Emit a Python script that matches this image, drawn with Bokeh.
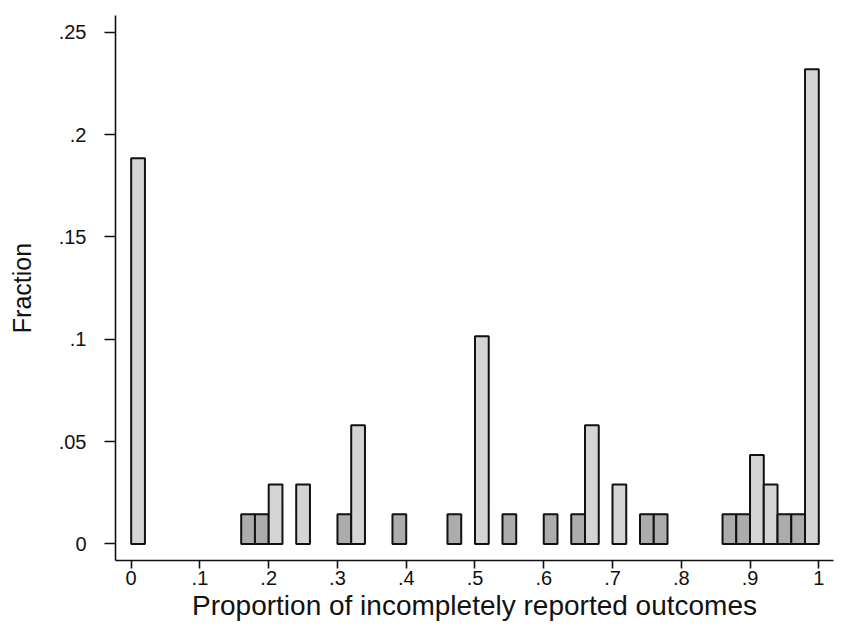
from bokeh.plotting import figure
from bokeh.models import Range1d, FixedTicker, ColumnDataSource
from bokeh.embed import file_html
from bokeh.resources import INLINE

# ---- data ----
bin_width = 0.02
n_total = 69
bin_left = [0.00, 0.16, 0.18, 0.20, 0.24, 0.30, 0.32, 0.38, 0.46, 0.50, 0.54,
            0.60, 0.64, 0.66, 0.70, 0.74, 0.76, 0.86, 0.88, 0.90, 0.92, 0.94,
            0.96, 0.98]
counts = [13, 1, 1, 2, 2, 1, 4, 1, 1, 7, 1,
          1, 1, 4, 2, 1, 1, 1, 1, 3, 2, 1,
          1, 16]
x_ticks = [0, 0.1, 0.2, 0.3, 0.4, 0.5, 0.6, 0.7, 0.8, 0.9, 1.0]
x_tick_labels = ["0", ".1", ".2", ".3", ".4", ".5", ".6", ".7", ".8", ".9", "1"]
y_ticks = [0, 0.05, 0.1, 0.15, 0.2, 0.25]
y_tick_labels = ["0", ".05", ".1", ".15", ".2", ".25"]

fraction = [c / n_total for c in counts]
bin_right = [l + bin_width for l in bin_left]
fill = ["#acacac" if c == 1 else "#d4d4d4" for c in counts]

src = ColumnDataSource(dict(left=bin_left, right=bin_right, top=fraction,
                            bottom=[0] * len(counts), fill=fill))

FONT = "Liberation Sans"

p = figure(width=844, height=632, output_backend="svg", toolbar_location=None,
           x_range=Range1d(-0.0228, 1.0214), y_range=Range1d(-0.0081, 0.2582),
           min_border_left=115, min_border_right=11, min_border_top=15,
           min_border_bottom=72)

p.quad(left="left", right="right", bottom="bottom", top="top", source=src,
       fill_color="fill", line_color="#111111", line_width=2)

p.xgrid.visible = False
p.ygrid.visible = False
p.outline_line_color = None
p.background_fill_color = "white"
p.border_fill_color = "white"

p.xaxis.ticker = FixedTicker(ticks=x_ticks)
p.xaxis.major_label_overrides = {t: s for t, s in zip(x_ticks, x_tick_labels)}
p.yaxis.ticker = FixedTicker(ticks=y_ticks)
p.yaxis.major_label_overrides = {t: s for t, s in zip(y_ticks, y_tick_labels)}

for ax in (p.xaxis[0], p.yaxis[0]):
    ax.axis_line_color = "#111111"
    ax.axis_line_width = 1.6
    ax.major_tick_line_color = "#111111"
    ax.major_tick_line_width = 1.6
    ax.minor_tick_line_color = None
    ax.major_tick_in = 0
    ax.major_label_text_font = FONT
    ax.major_label_text_font_size = "20px"
    ax.major_label_text_color = "#111111"
    ax.axis_label_text_font = FONT
    ax.axis_label_text_font_style = "normal"
    ax.axis_label_text_color = "#111111"

p.xaxis.major_tick_out = 8
p.xaxis.major_label_standoff = 2
p.xaxis.axis_label = "Proportion of incompletely reported outcomes"
p.xaxis.axis_label_text_font_size = "28px"
p.xaxis.axis_label_standoff = 2

p.yaxis.major_tick_out = 11
p.yaxis.major_label_standoff = 18
p.yaxis.axis_label = "Fraction"
p.yaxis.axis_label_text_font_size = "25px"
p.yaxis.axis_label_standoff = 20

open("out.html", "w").write(file_html(p, INLINE))
